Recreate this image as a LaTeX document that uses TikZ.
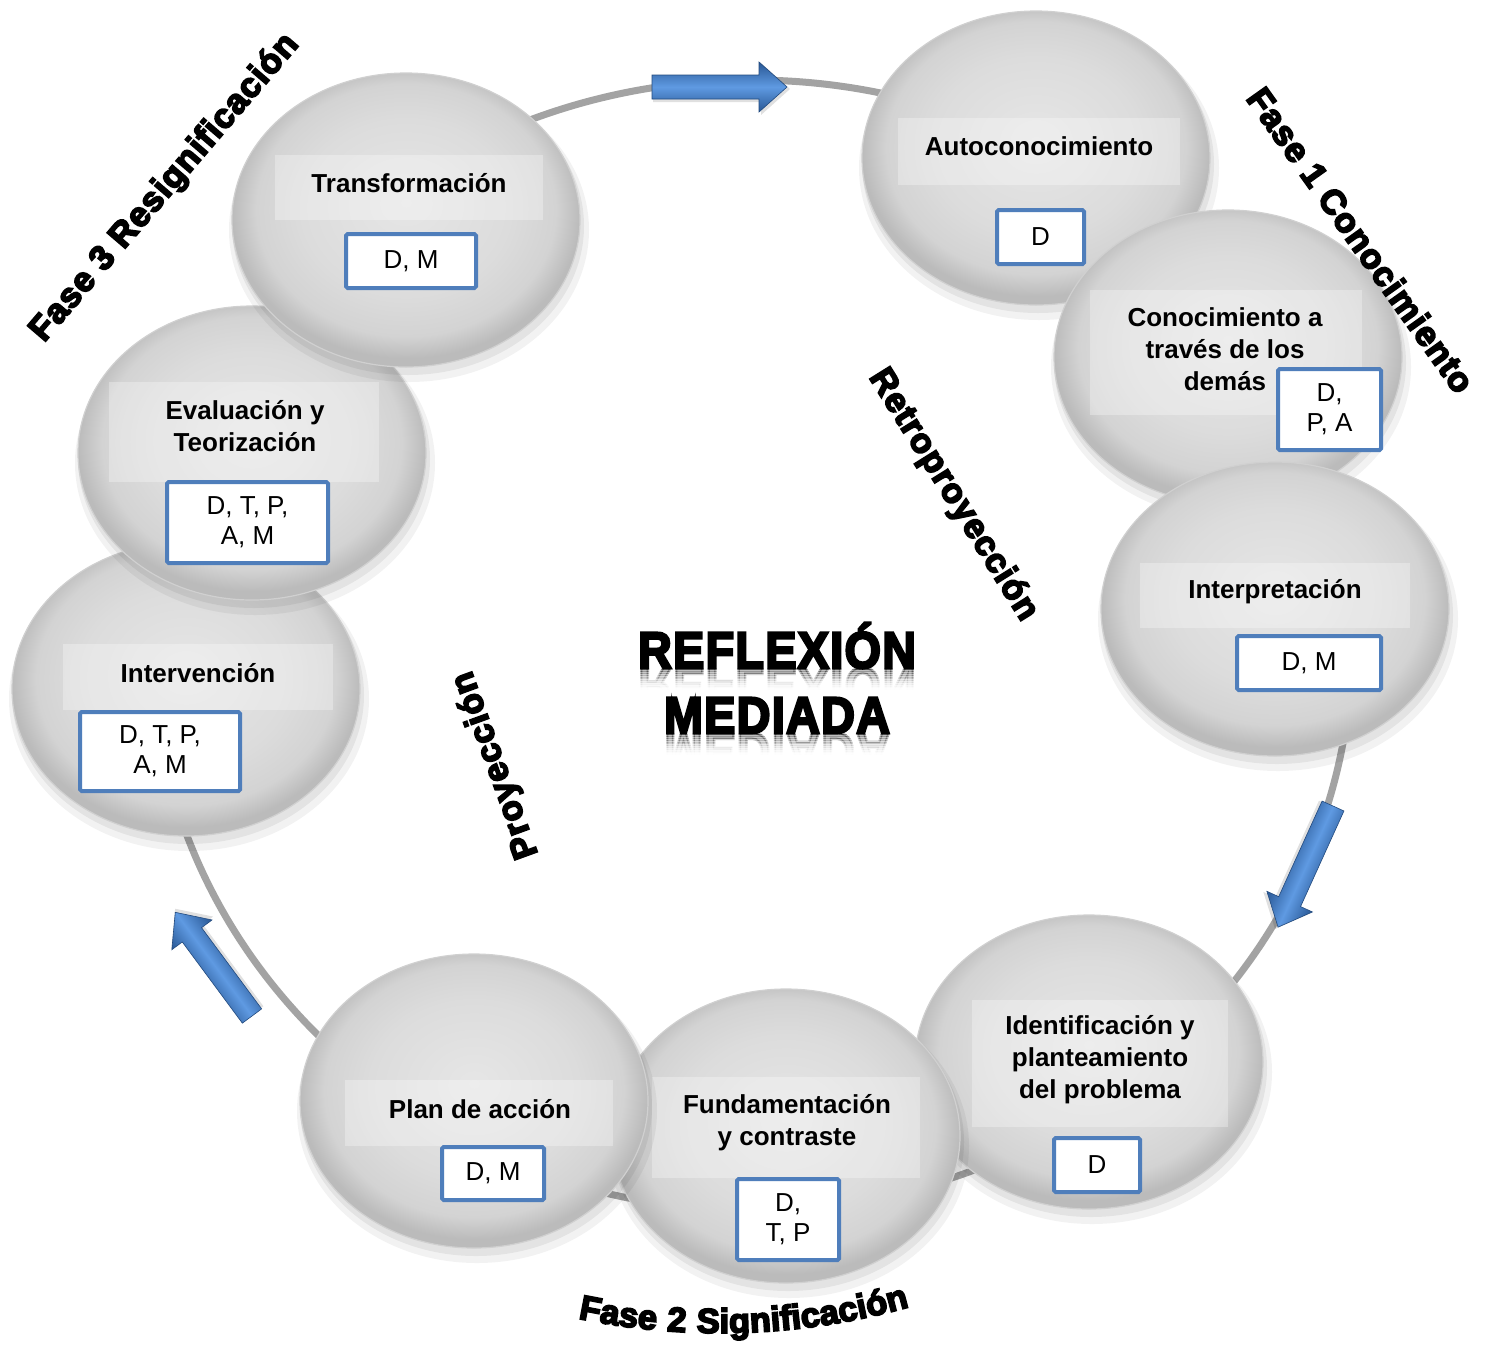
\documentclass[tikz,border=0pt]{standalone}
\usepackage{fontspec}
\setmainfont{Liberation Sans}
\newfontfamily\heavyfont[FakeBold=5, LetterSpace=3]{Liberation Sans Bold}
\usepackage{graphicx}
\usetikzlibrary{shapes.geometric,decorations.text}

\definecolor{ringcol}{HTML}{A3A3A3}
\definecolor{boxblue}{HTML}{4F7EBB}
\definecolor{arrdark}{HTML}{285794}
\definecolor{arrlight}{HTML}{5F9AE2}
\definecolor{ballA}{HTML}{E6E6E6}
\definecolor{ballB}{HTML}{DCDCDC}
\definecolor{ballC}{HTML}{D3D3D3}
\definecolor{ballD}{HTML}{BBBBBB}
\definecolor{ballrim}{HTML}{D0D0D0}

\pgfdeclareradialshading{ballgray}{\pgfpoint{0bp}{3bp}}{%
  color(0bp)=(ballA); color(15bp)=(ballB); color(21.5bp)=(ballC);
  color(25bp)=(ballD); color(50bp)=(ballD)}

\tikzset{
  ballnode/.style={ellipse, shade, shading=ballgray, draw=ballrim, line width=0.6pt,
    minimum width=174pt, minimum height=147pt, inner sep=0pt},
  lbl/.style={font=\bfseries\fontsize{13}{16}\selectfont, align=center, inner sep=0pt},
  bbox/.style={draw=boxblue, line width=2pt, fill=white, rounded corners=0.8pt,
    inner sep=0pt, align=center, font=\fontsize{13}{15}\selectfont},
  txtbar/.style={fill=white, opacity=0.3},
  phase/.style={font=\heavyfont\fontsize{17.3}{18}\selectfont, inner sep=0pt},
  bigtxt/.style={font=\heavyfont\fontsize{23.3}{24}\selectfont, inner sep=0pt, anchor=base},
}

\newcommand\mkball[3]{%
  \fill[black, opacity=0.05] ({#2+3},{#3+10}) ellipse [x radius=90pt, y radius=76pt];
  \fill[black, opacity=0.06] ({#2+2},{#3+6}) ellipse [x radius=88pt, y radius=74.5pt];
  \node[ballnode] (#1) at (#2,#3) {};
}

\newcommand\mkarrow[4]{%
  \begin{scope}[transform canvas={shift={(#1,#2)}, rotate=#3}]
    \fill[black, opacity=0.12] (0.5pt,-7.5pt) -- ({#4-13pt},-7.5pt) -- ({#4-13pt},-14pt)
      -- ({#4+1.5pt},-1pt) -- ({#4-13pt},12pt) -- ({#4-13pt},5pt) -- (0.5pt,5pt) -- cycle;
    \shade[top color=arrdark, bottom color=arrdark, middle color=arrlight,
      draw=arrdark!85!black, line width=0.3pt]
      (0pt,-6pt) -- ({#4-14pt},-6pt) -- ({#4-14pt},-12.5pt) -- (#4,0pt)
      -- ({#4-14pt},12.5pt) -- ({#4-14pt},6pt) -- (0pt,6pt) -- cycle;
  \end{scope}}

\newcommand\mkrefl[3]{% x, baseline y, text
  \foreach \k in {0,...,11}{%
    \pgfmathsetmacro\op{0.30*(1-\k/12)^2}
    \begin{scope}
      \clip (600,{#2+1.8*\k}) rectangle (960,{#2+1.8*\k+1.9});
      \node[bigtxt, opacity=\op] at (#1,#2) {\scalebox{1}[-1.1]{#3}};
    \end{scope}}}

\begin{document}
\begin{tikzpicture}[x=0.5pt, y=-0.5pt]
\useasboundingbox (0,0) rectangle (1493,1346);
\fill[white] (0,0) rectangle (1493,1346);

% ring
\coordinate (ringc) at (752,645);
\draw[ringcol, line width=3.5pt] (ringc) ellipse [x radius=300pt, y radius=282.5pt];

% block arrows
\mkarrow{652}{87}{0}{67.5pt}
\mkarrow{1333}{806}{-114.4}{66.5pt}
\mkarrow{252}{1016}{126.5}{64.5pt}

% 1 Autoconocimiento
\mkball{e1}{1036}{158}
\fill[txtbar] (898,118) rectangle (1180,185);
\node[lbl] (t1) at (1039,146) {Autoconocimiento};
\node[bbox, minimum width=43.5pt, minimum height=27pt] (b1) at (1040.5,237) {D};

% 2 Conocimiento a traves de los demas
\mkball{e2}{1228}{357}
\fill[txtbar] (1090,290) rectangle (1362,415);
\node[lbl] (t2) at (1225,349) {Conocimiento a\\través de los\\demás};
\node[bbox, minimum width=51.5pt, minimum height=40.5pt] (b2) at (1329.5,409.5) {D,\\P, A};

% 3 Interpretacion
\mkball{e3}{1275}{609}
\fill[txtbar] (1140,563) rectangle (1410,628);
\node[lbl] (t3) at (1275,592) {Interpretación};
\node[bbox, minimum width=72pt, minimum height=27pt] (b3) at (1309,663) {D, M};

% 4 Identificacion
\mkball{e4}{1089}{1062}
\fill[txtbar] (972,1000) rectangle (1228,1127);
\node[lbl] (t4) at (1100,1060) {Identificación y\\planteamiento\\del problema};
\node[bbox, minimum width=43pt, minimum height=27pt] (b4) at (1097,1165) {D};

% 5 Fundamentacion
\mkball{e5}{786}{1136}
\fill[txtbar] (652,1077) rectangle (920,1178);
\node[lbl] (t5) at (787,1123) {Fundamentación\\y contraste};
\node[bbox, minimum width=51pt, minimum height=40.5pt] (b5) at (788,1219.5) {D,\\T, P};

% 6 Plan de accion
\mkball{e6}{474}{1101}
\fill[txtbar] (345,1080) rectangle (613,1146);
\node[lbl] (t6) at (480,1109) {Plan de acción};
\node[bbox, minimum width=51pt, minimum height=26.5pt] (b6) at (493,1173.5) {D, M};

% 7 Intervencion
\mkball{e7}{186}{689}
\fill[txtbar] (63,644) rectangle (333,710);
\node[lbl] (t7) at (198,673) {Intervención};
\node[bbox, minimum width=80pt, minimum height=39.5pt] (b7) at (160,751.5) {D, T, P,\\A, M};

% 8 Evaluacion y Teorizacion
\mkball{e8}{252}{453}
\fill[txtbar] (109,382) rectangle (379,482);
\node[lbl] (t8) at (245,426) {Evaluación y\\Teorización};
\node[bbox, minimum width=80.5pt, minimum height=40.5pt] (b8) at (247.5,522.5) {D, T, P,\\A, M};

% 9 Transformacion
\mkball{e9}{406}{220}
\fill[txtbar] (275,155) rectangle (543,220);
\node[lbl] (t9) at (409,183) {Transformación};
\node[bbox, minimum width=65pt, minimum height=27pt] (b9) at (411,261) {D, M};

% phase and direction labels
\node[phase, rotate=-54.6] (f1) at (1361,240) {Fase 1 Conocimiento};
\node[phase, rotate=49.4] (f3) at (165,188) {Fase 3 Resignificación};
\node[phase, rotate=-58] (retro) at (953,495) {Retroproyección};
\node[phase, rotate=110] (proy) at (496,765) {Proyección};

\coordinate (fc) at (720,633);
\path[decorate, decoration={text along path, text align=center,
  text={|\heavyfont\fontsize{17.3}{18}\selectfont|Fase 2 Significación}}]
  (fc) ++(-112:350pt) arc[start angle=-112, end angle=-64, radius=350pt];

% centre title
\node[bigtxt] (r1) at (777,668) {\scalebox{1}[1.1]{REFLEXIÓN}};
\node[bigtxt] (r2) at (777,733) {\scalebox{1}[1.1]{MEDIADA}};
\mkrefl{777}{668}{REFLEXIÓN}
\mkrefl{777}{733}{MEDIADA}
\end{tikzpicture}
\end{document}
